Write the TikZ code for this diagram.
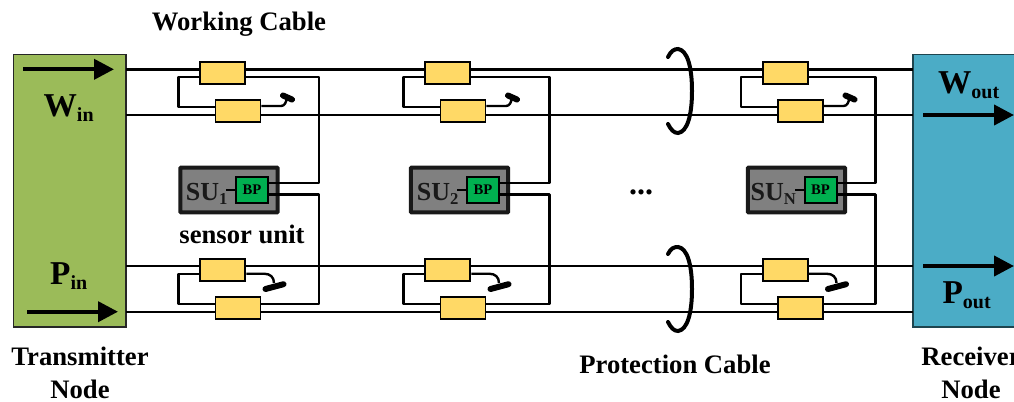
\documentclass[tikz,border=0pt]{standalone}
\usepackage{fontspec}
\setmainfont{Liberation Serif}
\usetikzlibrary{arrows.meta}
\definecolor{txgreen}{HTML}{9BBB59}
\definecolor{rxblue}{HTML}{4BACC6}
\definecolor{cplr}{HTML}{FFD966}
\definecolor{bpgreen}{HTML}{00B050}
\definecolor{sugray}{HTML}{808080}
\tikzset{
  wire/.style={line width=1.8pt,line join=round},
  lab/.style={font=\fontsize{20}{24}\selectfont\bfseries,inner sep=0pt,align=center},
  sig/.style={font=\fontsize{25}{28}\selectfont\bfseries,inner sep=0pt},
  sulab/.style={font=\fontsize{19.5}{22}\selectfont\bfseries,inner sep=0pt,text=black!90},
  term/.style={line width=1pt,inner sep=0pt},
  coupler/.style={draw=black,fill=cplr,line width=1.4pt,inner sep=0pt,minimum width=33.8pt,minimum height=16.7pt},
  subox/.style={draw=black!90,fill=sugray,line width=3pt,rounded corners=0.6pt,inner sep=0pt,minimum width=73pt,minimum height=33.5pt},
  bpbox/.style={draw=black,fill=bpgreen,line width=1.5pt,inner sep=0pt,minimum width=24pt,minimum height=19.5pt,font=\fontsize{11}{12}\selectfont\bfseries},
  flow/.style={line width=3pt,-{Triangle[length=15pt,width=15pt]}},
  blade/.style={line width=4.5pt,line cap=round},
  ring/.style={line width=3pt,line cap=round}
}
\begin{document}
\begin{tikzpicture}[x=0.75pt,y=-0.75pt]
\useasboundingbox (0,0) rectangle (1014,401);

% end nodes
\node[term,draw=black!85,fill=txgreen,minimum width=84.5pt,minimum height=204.5pt] (tx) at (69.5,190.5) {};
\node[term,draw=black!60!rxblue,fill=rxblue,minimum width=84pt,minimum height=204.5pt] (rx) at (969,190.5) {};

% main cables
\foreach \n/\yy in {wa/69.3,wb/115,pa/266,pb/311.7}{
  \coordinate (\n L) at (126,\yy);
  \coordinate (\n R) at (913,\yy);
  \draw[wire] (\n L) -- (\n R);
}

% sensor cells: index / couplers shift / right riser / SU centre / BP centre / subscript
\foreach \u/\dx/\rx/\sux/\bpx/\sub in {1/0/319/229/252/1,2/225/549.5/459.5/483/2,3/562.5/875.5/796.5/820.5/N}{
  \begin{scope}
  \node[coupler] (wt\u) at (222.8+\dx,73) {};
  \node[coupler] (wb\u) at (238+\dx,111) {};
  \node[coupler] (pt\u) at (222.8+\dx,269.8) {};
  \node[coupler] (pb\u) at (238+\dx,307.8) {};
  \node[subox] (su\u) at (\sux,190) {};
  \node[bpbox] (bp\u) at (\bpx,190) {BP};
  \node[sulab,anchor=east] (sl\u) at ([xshift=-5.5pt,yshift=-3pt]bp\u.west) {SU\raisebox{-2.5pt}{\fontsize{12.5}{14}\selectfont\sub}};
  \coordinate (lw\u) at (178.3+\dx,76.7);
  \coordinate (lp\u) at (178.3+\dx,273.7);
  \coordinate (rt\u) at (\rx,76.7);
  \coordinate (rb\u) at (\rx,304);
  % working loop
  \draw[wire] (wt\u.west |- lw\u) -- (lw\u) -- (178.3+\dx,107) -- (wb\u.west |- 0,107);
  \draw[wire] (wt\u.east |- lw\u) -- (rt\u) -- (\rx,182.7) -- (bp\u.east |- 0,182.7);
  % protection loop
  \draw[wire] (pt\u.west |- lp\u) -- (lp\u) -- (178.3+\dx,304) -- (pb\u.west |- rb\u);
  \draw[wire] (pb\u.east |- rb\u) -- (rb\u) -- (\rx,194.3) -- (bp\u.east |- 0,194.3);
  % open switches
  \draw[wire] (wb\u.east |- 0,106) -- (281+\dx,106) .. controls (285+\dx,106) and (286+\dx,102) .. (287+\dx,98);
  \draw[blade] (283+\dx,95.5) -- (292+\dx,99.5);
  \draw[wire] (pt\u.east |- lp\u) -- (264+\dx,273.7) .. controls (270+\dx,273.7) and (274+\dx,277) .. (274+\dx,283);
  \draw[blade] (265.5+\dx,289) -- (283.5+\dx,284.2);
  % short lead from label to BP
  \draw[wire] (bp\u.west) -- ++(-9,0);
  \end{scope}
}

% cable bundles
\draw[ring] (668,57) .. controls (671,51) and (674,49) .. (678,49)
  .. controls (687,50) and (692,66) .. (692,91)
  .. controls (692,116) and (687,132) .. (678,133)
  .. controls (674,133) and (671,130) .. (668,124);
\draw[ring] (668,254) .. controls (671,248) and (674,247) .. (678,247)
  .. controls (687,248) and (692,264) .. (692,289)
  .. controls (692,314) and (687,330) .. (678,331)
  .. controls (674,331) and (671,328) .. (668,322);

% flow arrows
\coordinate (wi) at (23,69.3); \coordinate (wi2) at (114,69.3);
\coordinate (pi) at (27,311.7); \coordinate (pi2) at (118,311.7);
\coordinate (wo) at (923,115); \coordinate (wo2) at (1014,115);
\coordinate (po) at (923,266); \coordinate (po2) at (1014,266);
\draw[flow] (wi) -- (wi2);
\draw[flow] (pi) -- (pi2);
\draw[flow] (wo) -- (wo2);
\draw[flow] (po) -- (po2);

% labels
\node[sig] (win) at (69,108) {W\textsubscript{\fontsize{15}{15}\selectfont\bfseries in}};
\node[sig] (pin) at (69,276) {P\textsubscript{\fontsize{15}{15}\selectfont\bfseries in}};
\node[sig] (wout) at (969,85) {W\textsubscript{\fontsize{15}{15}\selectfont\bfseries out}};
\node[sig] (pout) at (967,295) {P\textsubscript{\fontsize{15}{15}\selectfont\bfseries out}};
\node[lab] (wc) at (239,24) {Working Cable};
\node[lab] (su) at (242,234) {sensor unit};
\node[lab] (pc) at (675,364) {Protection Cable};
\node[lab,font=\fontsize{24}{24}\selectfont\bfseries] (dots) at (641,192) {...};
\node[lab,anchor=north,font=\fontsize{20}{24.5}\selectfont\bfseries] (txl) at (80,347) {Transmitter\\Node};
\node[lab,anchor=north,font=\fontsize{20}{24.5}\selectfont\bfseries] (rxl) at (971,347) {Receiver\\Node};
\end{tikzpicture}
\end{document}
